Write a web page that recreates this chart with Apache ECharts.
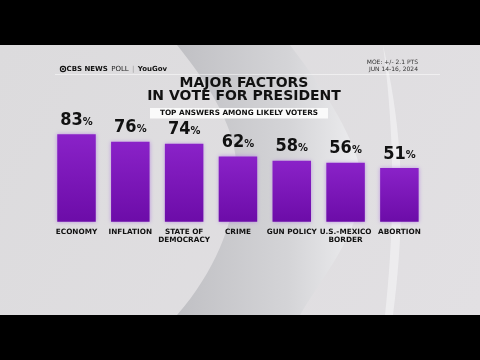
<!DOCTYPE html>
<html><head><meta charset="utf-8">
<script src="https://cdn.jsdelivr.net/npm/echarts@6/dist/echarts.min.js"></script>
<style>html,body{margin:0;padding:0;background:#000}#c{width:480px;height:360px}</style>
</head><body><div id="c"></div>
<script>
const categories = ['ECONOMY','INFLATION','STATE OF\nDEMOCRACY','CRIME','GUN POLICY','U.S.-MEXICO\nBORDER','ABORTION'];
const values = [83, 76, 74, 62, 58, 56, 51];
const titleLines = ['MAJOR FACTORS', 'IN VOTE FOR PRESIDENT'];
const subtitle = 'TOP ANSWERS AMONG LIKELY VOTERS';
const moeLines = ['MOE: +/- 2.1 PTS', 'JUN 14-16, 2024'];

// decorative background curve helper (cubic bezier sampling)
function bez(p0,p1,p2,p3,n){const o=[];for(let i=0;i<=n;i++){const t=i/n,u=1-t;
  o.push([u*u*u*p0[0]+3*u*u*t*p1[0]+3*u*t*t*p2[0]+t*t*t*p3[0],u*u*u*p0[1]+3*u*u*t*p1[1]+3*u*t*t*p2[1]+t*t*t*p3[1]]);}return o;}
const rightEdge = bez([290,45],[340,110],[365,160],[362,192],20).concat(bez([362,192],[355,240],[320,280],[300,315],20));
const leftEdge = bez([177,315],[225,260],[240,200],[236,160],20).concat(bez([236,160],[232,120],[205,80],[177,45],20));
const bandPts = rightEdge.concat(leftEdge);
const stripePts = bez([383,45],[405,140],[405,220],[393,315],20).concat(bez([385,315],[395,220],[395,140],[383,45],20));

const chart = echarts.init(document.getElementById('c'), null, {renderer:'canvas'});
const wide = '"DejaVu Sans",sans-serif';
const numFont = '"DejaVu Sans",sans-serif';
chart.setOption({
  backgroundColor: '#000',
  animation: false,
  graphic: [
    {type:'rect', z:-10, shape:{x:0,y:45,width:480,height:270},
     style:{fill:new echarts.graphic.LinearGradient(0,0,1,1,[{offset:0,color:'#dcdbdd'},{offset:1,color:'#e2e0e3'}])}},
    {type:'polygon', z:-9, shape:{points:bandPts},
     style:{fill:new echarts.graphic.LinearGradient(0,0,1,0,[{offset:0,color:'#c0c0c4'},{offset:0.6,color:'#d4d4d7'},{offset:1,color:'#eeeef0'}])}},
    {type:'polygon', z:-8, shape:{points:stripePts}, style:{fill:'rgba(245,245,247,0.6)'}},
    {type:'rect', z:-7, shape:{x:55,y:74,width:385,height:1}, style:{fill:'rgba(255,255,255,0.5)'}},
    // logo
    {type:'circle', shape:{cx:63,cy:69,r:2.6}, style:{fill:'none',stroke:'#111',lineWidth:1.2}},
    {type:'circle', shape:{cx:63,cy:69,r:1}, style:{fill:'#111'}},
    {type:'text', x:66.5, y:69, style:{text:'{b|CBS NEWS} {r|POLL} {s||} {b|YouGov}', verticalAlign:'middle',
      rich:{b:{fontFamily:wide,fontWeight:'bold',fontSize:7,fill:'#111'},r:{fontFamily:wide,fontSize:7,fill:'#222'},s:{fontFamily:wide,fontSize:7,fill:'#999'}}}},
    {type:'text', x:418, y:62, style:{text:moeLines[0], align:'right', verticalAlign:'middle', fontFamily:wide, fontSize:6, fill:'#333'}},
    {type:'text', x:418, y:69, style:{text:moeLines[1], align:'right', verticalAlign:'middle', fontFamily:wide, fontSize:6, fill:'#333'}},
    // title
    {type:'text', x:244, y:83, style:{text:titleLines[0], align:'center', verticalAlign:'middle', fontFamily:wide, fontWeight:'bold', fontSize:14, fill:'#111'}},
    {type:'text', x:244, y:96.5, style:{text:titleLines[1], align:'center', verticalAlign:'middle', fontFamily:wide, fontWeight:'bold', fontSize:14, fill:'#111'}},
    {type:'rect', shape:{x:150,y:108,width:178,height:10.5}, style:{fill:'#fafafa'}},
    {type:'text', x:239, y:113.5, style:{text:subtitle, align:'center', verticalAlign:'middle', fontFamily:wide, fontWeight:'bold', fontSize:7.3, fill:'#111'}}
  ],
  grid: {left:49.6, right:53.7, top:116.4, bottom:138.3},
  xAxis: {type:'category', data:categories, axisLine:{show:false}, axisTick:{show:false},
    axisLabel:{interval:0, margin:6, color:'#111', fontFamily:wide, fontWeight:'bold', fontSize:7.3, lineHeight:8.5}},
  yAxis: {type:'value', min:0, max:100, show:false, splitLine:{show:false}},
  series: [{
    type:'bar', data:values, barWidth:38.5,
    itemStyle:{color:new echarts.graphic.LinearGradient(0,0,0,1,[{offset:0,color:'#8a22c8'},{offset:1,color:'#6c0ca8'}]),
      shadowBlur:4, shadowColor:'rgba(175,120,225,0.7)'},
    label:{show:true, position:'top', distance:5,
      formatter:p=>'{n|'+p.value+'}{p|%}',
      rich:{n:{fontFamily:numFont, fontWeight:'bold condensed', fontSize:18, color:'#111'},
            p:{fontFamily:numFont, fontWeight:'bold condensed', fontSize:11, color:'#111', padding:[3,0,0,0]}}}
  }]
});
</script></body></html>
